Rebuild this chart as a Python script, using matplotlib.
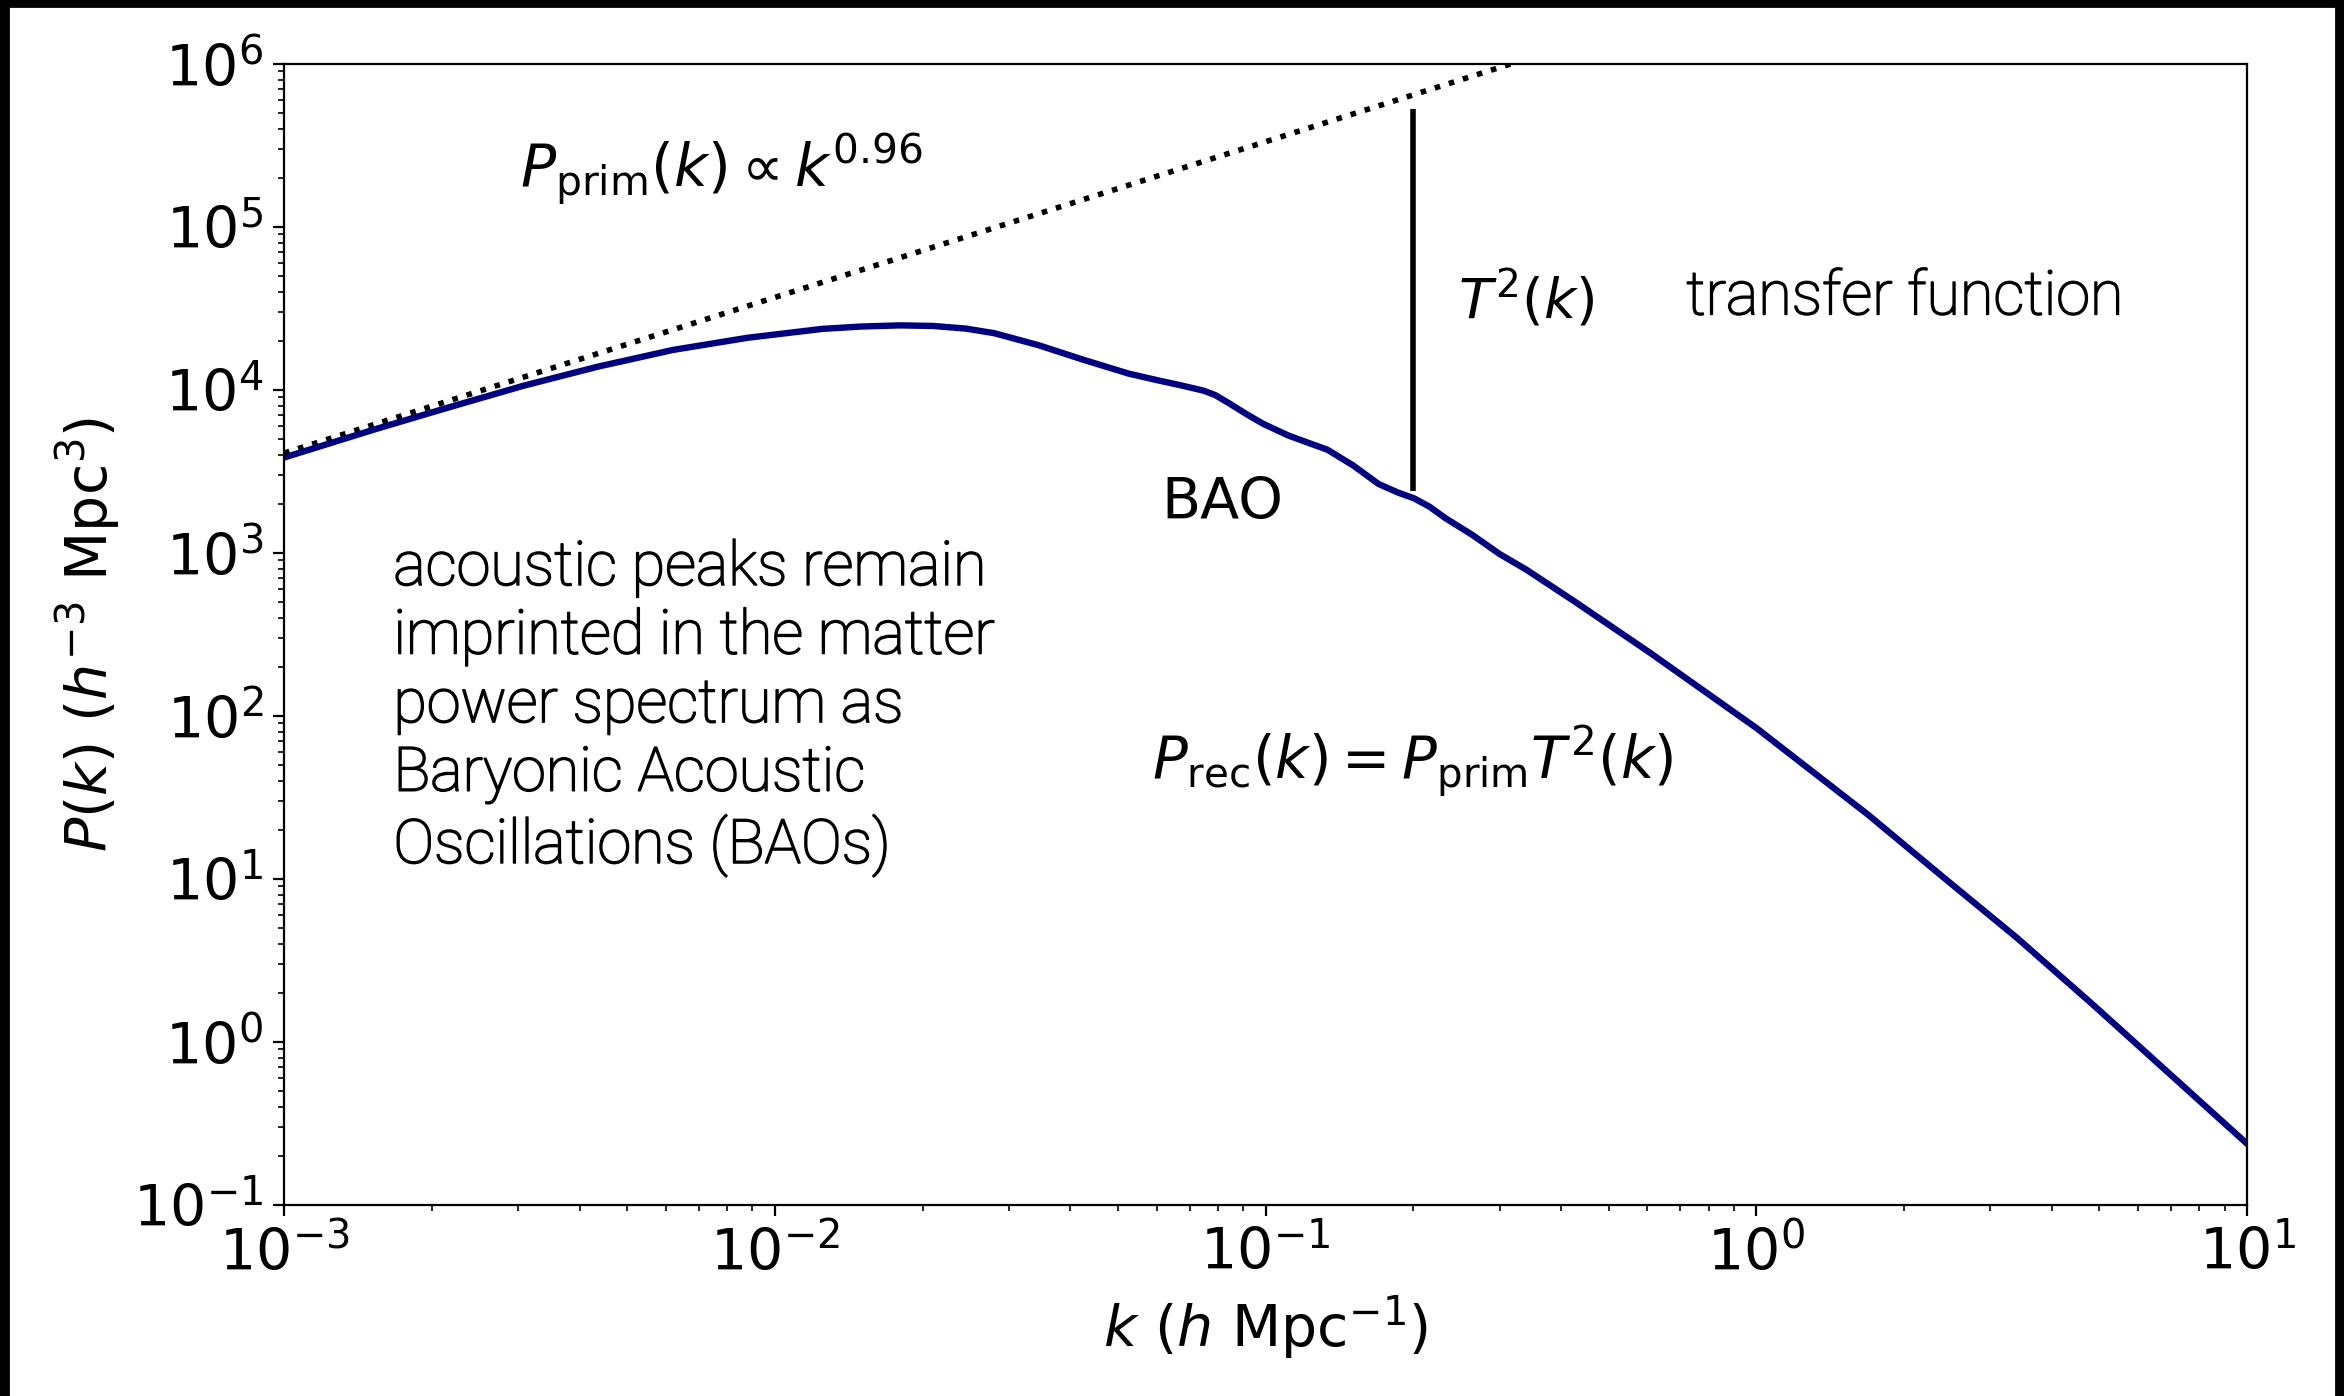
import matplotlib
matplotlib.use("Agg")
import matplotlib.pyplot as plt
import matplotlib.patheffects as pe
from matplotlib.patches import Rectangle
import numpy as np

# matter power spectrum (k in h/Mpc, P in h^-3 Mpc^3)
k_rec = [0.001, 0.00152, 0.00216, 0.00307, 0.00436, 0.0062, 0.0088, 0.0125,
         0.0150, 0.0180, 0.0210, 0.0245, 0.028, 0.0345, 0.0426, 0.0526,
         0.060, 0.067, 0.0748, 0.079, 0.0842, 0.0915, 0.0989, 0.1114, 0.122,
         0.1337, 0.1507, 0.170, 0.186, 0.201, 0.216, 0.233, 0.264, 0.300,
         0.340, 0.426, 0.609, 1.0, 1.69, 2.41, 3.4, 4.86, 10.0]
P_rec = [3.85e3, 5.7e3, 7.8e3, 1.06e4, 1.39e4, 1.76e4, 2.09e4, 2.37e4,
         2.45e4, 2.49e4, 2.47e4, 2.38e4, 2.23e4, 1.88e4, 1.53e4, 1.26e4,
         1.15e4, 1.07e4, 9.9e3, 9.3e3, 8.3e3, 7.1e3, 6.2e3, 5.25e3, 4.75e3,
         4.3e3, 3.45e3, 2.65e3, 2.35e3, 2.16e3, 1.92e3, 1.63e3, 1.29e3, 985,
         790, 505, 243, 84.5, 24.8, 10.2, 4.35, 1.69, 0.238]

# primordial power law, endpoints of the dotted line
k_prim = [0.001, 0.5]
P_prim = [4.1e3, 1.55e6]

# vertical marker for T^2(k)
k_mark = 0.2
P_mark = [2.4e3, 5.3e5]

note = ("acoustic peaks remain\nimprinted in the matter\npower spectrum as\n"
        "Baryonic Acoustic\nOscillations (BAOs)")

fig = plt.figure(figsize=(11.72, 6.98), dpi=200)
ax = fig.add_axes([0.1212, 0.1368, 0.8374, 0.8174])

ax.plot(k_prim, P_prim, color='k', ls=':', lw=2.0)
ax.plot(k_rec, P_rec, color='navy', lw=2.3, solid_joinstyle='round')
ax.vlines(k_mark, P_mark[0], P_mark[1], color='k', lw=2.0)

ax.set_xscale('log')
ax.set_yscale('log')
ax.set_xlim(1e-3, 1e1)
ax.set_ylim(1e-1, 1e6)
ax.tick_params(which='major', labelsize=20.5, length=4)
ax.tick_params(which='minor', length=2)

ax.set_xlabel(r'$k\ (h\ {\rm Mpc}^{-1})$', fontsize=20.5)
ax.set_ylabel(r'$P(k)\ (h^{-3}\ {\rm Mpc}^3)$', fontsize=20.5)

# thin sans notes, slightly thickened to look like a light Helvetica
thin = dict(family=['Roboto', 'DejaVu Sans'], fontweight='light', color='k',
            path_effects=[pe.withStroke(linewidth=0.6, foreground='k')])

ax.text(0.00303, 2.25e5, r'$P_{\rm prim}(k) \propto k^{0.96}$', fontsize=21,
        ha='left', va='center')
ax.text(0.247, 3.6e4, r'$T^2(k)$', fontsize=20, ha='left', va='center')
ax.text(0.72, 3.7e4, 'transfer function', fontsize=22, ha='left', va='center',
        **thin)
ax.text(0.0612, 2.0e3, 'BAO', fontsize=20.5, ha='left', va='center')
ax.text(0.00167, 112, note, fontsize=22, ha='left', va='center',
        linespacing=1.23, **thin)
ax.text(0.0586, 52, r'$P_{\rm rec}(k) = P_{\rm prim}T^2(k)$', fontsize=20.8,
        ha='left', va='center')

# black screenshot frame on left, top and right
W, H = 2344, 1396
for x0, y0, w, h in [(0, 0, 8 / W, 1), (0, 1 - 6 / H, 1, 6 / H), (1 - 8 / W, 0, 8 / W, 1)]:
    fig.patches.append(Rectangle((x0, y0), w, h, transform=fig.transFigure,
                                 color='k', zorder=10))

fig.savefig('out.png', dpi=200)
